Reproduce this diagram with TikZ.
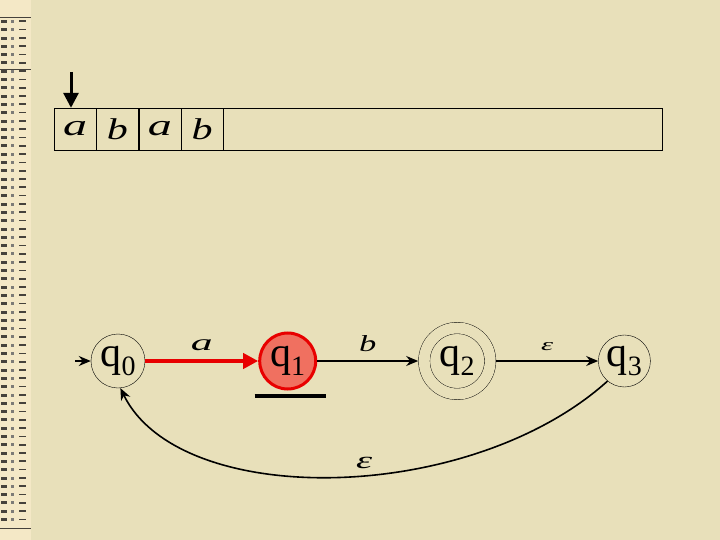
\documentclass[tikz,border=0pt]{standalone}
\usepackage{fontspec}
\setmainfont{Liberation Serif}
\usetikzlibrary{arrows.meta,positioning}
\definecolor{slidebg}{RGB}{232,224,186}
\definecolor{stripbg}{RGB}{244,232,198}
\definecolor{stripmark}{RGB}{70,66,60}
\definecolor{hotfill}{RGB}{240,112,96}
\definecolor{hotline}{RGB}{232,0,0}
\newcommand{\qname}[1]{q\raisebox{-9pt}{\fontsize{28}{28}\selectfont #1}}
\newcommand{\wlabel}[2]{\scalebox{#1}[1]{\itshape #2}}
\tikzset{
  state/.style={circle, draw, thin, minimum size=54pt, inner sep=0pt,
    font=\fontsize{42}{42}\selectfont},
  cell/.style={draw, thin, minimum width=42pt, minimum height=42pt, inner sep=0pt,
    font=\fontsize{30}{30}\selectfont},
  edge/.style={line width=1.6pt, -{Stealth[length=12pt,width=10pt]}},
}
\begin{document}
\begin{tikzpicture}[x=1pt, y=-1pt]
    \useasboundingbox (0,0) rectangle (720,540);
    \fill[slidebg] (0,0) rectangle (720,540);

    % decorated strip on the left
    \fill[stripbg] (0,0) rectangle (31,540);
    \draw[stripmark, thin] (0,17) -- (31,17);
    \draw[stripmark, thin] (0,69) -- (31,69);
    \draw[stripmark, thin] (0,528) -- (31,528);
    \foreach \y in {20,28.3,...,525} {
        \fill[stripmark] (1,\y) rectangle (7,\y+3);
        \fill[stripmark!70] (11,\y) rectangle (14,\y+3);
        \fill[stripmark] (19,\y+0.5) rectangle (26,\y+2.2);
    }

    % tape
    \node[cell] (c1) at (75,129) {\raisebox{-3pt}{\wlabel{1.6}{a}}};
    \node[cell, right=0pt of c1] (c2) {\raisebox{-3pt}{\wlabel{1.4}{b}}};
    \node[cell, right=0pt of c2] (c3) {\raisebox{-3pt}{\wlabel{1.6}{a}}};
    \node[cell, right=0pt of c3] (c4) {\raisebox{-3pt}{\wlabel{1.4}{b}}};
    \node[draw, thin, minimum width=439pt, minimum height=42pt, right=0pt of c4] (rest) {};
    \coordinate (headtop) at ([xshift=-4pt, yshift=36pt]c1.north);
    \draw[line width=3pt, -{Triangle[length=15pt,width=15pt]}] (headtop) -- ([xshift=-4pt]c1.north);

    % automaton
    \node[state] (q0) at (118,361) {\qname{0}};
    \node[state, draw=hotline, line width=3pt, fill=hotfill, minimum size=56pt,
          right=113pt of q0] (q1) {\qname{1}};
    \node[state, double=slidebg, double distance=11pt, minimum size=66pt, outer sep=6pt,
          right=101pt of q1] (q2) {\qname{2}};
    \node[state, minimum size=52pt, right=102pt of q2] (q3) {\qname{3}};
    \coordinate (start) at (75,361);

    \draw[edge] (start) -- (q0);
    \draw[line width=4pt, hotline, -{Triangle[length=15pt,width=15pt]}] (q0) --
        node[above=5pt, black, font=\fontsize{23}{23}\selectfont] {\wlabel{1.9}{a}} (q1);
    \draw[edge] (q1) -- node[above=5pt, font=\fontsize{23}{23}\selectfont] {\wlabel{1.5}{b}} (q2);
    \draw[edge] (q2) -- node[above=6pt, font=\fontsize{17}{17}\selectfont] {\wlabel{1.8}{ε}} (q3);
    \draw[edge] (q3.230) .. controls (470,505) and (180,510) ..
        node[pos=0.45, above=3pt, font=\fontsize{24}{24}\selectfont] {\wlabel{1.7}{ε}} (q0.275);

    % underline below the current state
    \coordinate (barl) at ([xshift=-33pt, yshift=-5pt]q1.south);
    \coordinate (barr) at ([xshift=38pt, yshift=-5pt]q1.south);
    \draw[line width=4pt] (barl) -- (barr);
\end{tikzpicture}
\end{document}
